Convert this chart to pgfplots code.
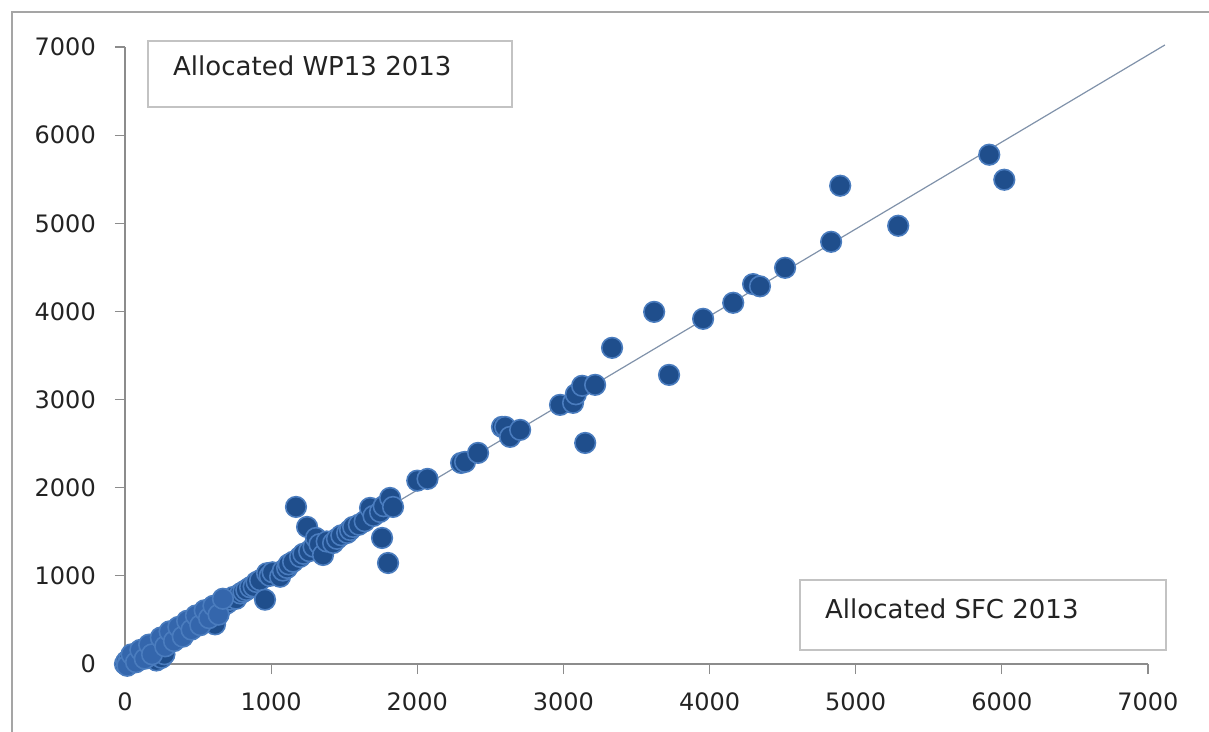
\documentclass[border=0pt]{standalone}
\usepackage{fontspec}
\setmainfont{DejaVu Sans}
\usepackage{pgfplots}
\usepackage{pgfplotstable}
\pgfplotsset{compat=1.18}

\definecolor{markfill}{RGB}{31,78,140}
\definecolor{markedge}{RGB}{74,124,190}
\definecolor{crowdfill}{RGB}{52,102,172}
\definecolor{trend}{RGB}{128,146,170}
\definecolor{axisgray}{RGB}{140,140,140}
\definecolor{framegray}{RGB}{165,165,165}
\definecolor{boxgray}{RGB}{195,195,195}
\definecolor{labeltext}{RGB}{35,35,35}

% Allocated SFC 2013 (x) against Allocated WP13 2013 (y)
\pgfplotstableread{
x y
0 0
10 30
20 10
30 60
40 20
50 80
60 40
70 90
80 60
90 110
100 70
110 120
120 100
130 150
140 110
150 170
160 140
170 180
180 160
190 200
200 60
215 40
230 90
250 70
270 110
210 210
220 190
240 230
250 250
260 240
270 280
280 260
290 300
300 290
310 320
320 300
340 340
350 330
360 370
380 380
390 360
400 410
420 400
430 440
450 460
460 440
480 490
500 510
510 480
520 540
540 550
560 560
580 590
600 600
590 480
616 450
630 620
650 660
660 640
680 700
700 690
720 730
740 760
760 740
790 800
810 820
830 840
856 870
880 880
900 930
924 950
958 730
972 1030
990 1000
1010 1040
1061 990
1080 1060
1109 1090
1120 1130
1150 1160
1170 1782
1198 1215
1220 1250
1246 1555
1260 1280
1290 1330
1307 1430
1330 1360
1355 1237
1380 1390
1424 1373
1450 1420
1480 1460
1520 1487
1540 1520
1561 1555
1600 1580
1640 1620
1677 1771
1700 1680
1745 1725
1759 1430
1770 1790
1800 1146
1814 1884
1834 1782
2000 2080
2070 2100
2300 2281
2327 2293
2416 2395
2580 2690
2601 2690
2635 2577
2704 2656
2977 2940
3066 2963
3085 3060
3128 3156
3149 2508
3217 3167
3333 3587
3621 3995
3723 3280
3956 3916
4162 4098
4298 4310
4345 4285
4517 4495
4832 4790
4894 5426
5291 4972
5914 5778
6017 5494
}\alloc

% further entries of the low range, where the points crowd together
\pgfplotstableread{
x y
15 -20
45 110
75 20
105 160
135 60
165 220
185 110
245 300
275 200
305 370
335 260
365 420
395 310
425 490
455 390
485 550
515 440
545 610
575 520
605 660
640 560
670 740
}\crowd

\begin{document}
\begin{tikzpicture}[x=1pt,y=1pt]
\useasboundingbox (0,0) rectangle (1209,731);
% chart frame
\draw[framegray, line width=1.5pt] (12,-2) -- (12,719) -- (1211,719);

\begin{axis}[
  at={(125pt,67pt)}, anchor=south west,
  scale only axis, width=1023pt, height=617pt,
  xmin=0, xmax=7000, ymin=0, ymax=7000,
  enlargelimits=false, clip=false,
  axis x line=bottom, axis y line=left,
  axis line style={axisgray, line width=1.2pt, -},
  every outer x axis line/.append style={-},
  every outer y axis line/.append style={-},
  xtick={0,1000,...,7000}, ytick={0,1000,...,7000},
  tick align=outside, major tick length=10pt,
  tick style={axisgray, line width=1.2pt},
  ticklabel style={font=\fontsize{24}{28}\selectfont, text=labeltext},
  /pgf/number format/assume math mode=true,
  /pgf/number format/1000 sep={},
  xticklabel style={inner sep=0pt, anchor=north, yshift=-18pt},
  yticklabel style={inner sep=0pt, anchor=east, xshift=-19pt},
]
\addplot[only marks, mark=*, mark size=10.3pt,
  mark options={fill=markfill, draw=markedge, line width=1.6pt}]
  table[x=x, y=y] {\alloc};
\addplot[only marks, mark=*, mark size=10.3pt,
  mark options={fill=crowdfill, draw=markedge, line width=1.6pt}]
  table[x=x, y=y] {\crowd};
% trend line
\addplot[trend, line width=1.2pt] coordinates {(0,0) (7116,7023)};
\end{axis}

% captions
\draw[boxgray, line width=1.5pt, fill=white] (148,690) rectangle (512,624);
\node[anchor=base west, inner sep=0pt, font=\fontsize{26}{30}\selectfont, text=labeltext]
  at (173,655) {Allocated WP13 2013};
\draw[boxgray, line width=1.5pt, fill=white] (800,151) rectangle (1166,81);
\node[anchor=base west, inner sep=0pt, font=\fontsize{26}{30}\selectfont, text=labeltext]
  at (825,113) {Allocated SFC 2013};
\end{tikzpicture}
\end{document}
